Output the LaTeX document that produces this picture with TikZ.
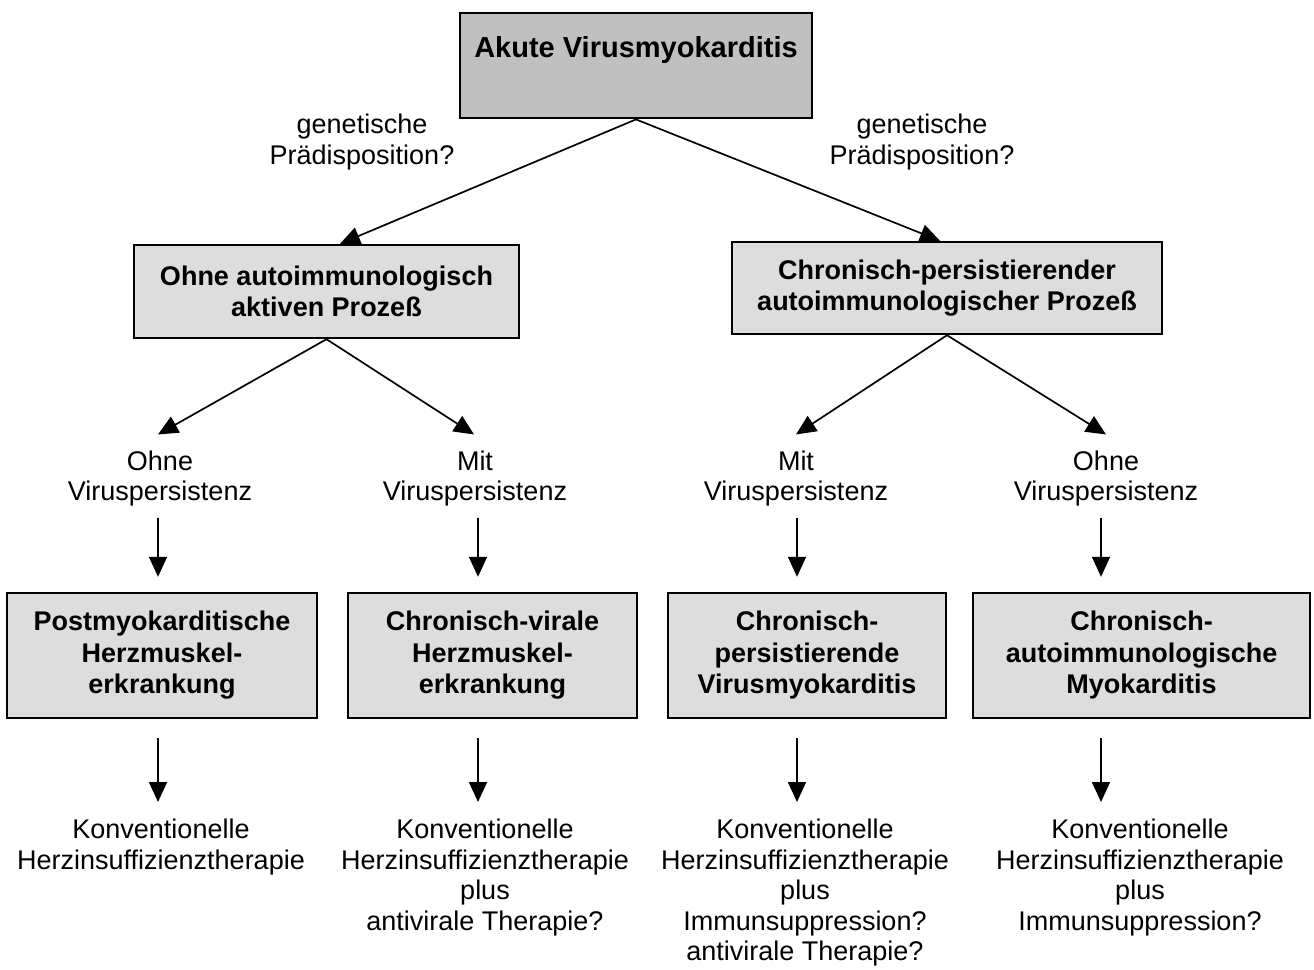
\documentclass[tikz,border=0pt]{standalone}
\usepackage{fontspec}
\setmainfont{Liberation Sans}
\usetikzlibrary{arrows.meta,calc}
\definecolor{dgray}{HTML}{C0C0C0}
\definecolor{lgray}{HTML}{DDDDDD}
\begin{document}
\begin{tikzpicture}[x=1pt,y=-1pt,
  box/.style={draw, line width=2.4pt, inner sep=0pt, align=center, fill=lgray,
    font=\fontsize{27}{31.5}\selectfont\bfseries},
  txt/.style={inner sep=0pt, align=center, font=\fontsize{27}{30.5}\selectfont},
  arr/.style={-{Triangle[length=20pt,width=18pt]}, line width=1.7pt}]
\useasboundingbox (0,0) rectangle (1314,969);
% boxes
\node[box, fill=dgray, anchor=north, minimum width=352pt, text height=44pt, text depth=61pt,
  font=\fontsize{29}{33}\selectfont\bfseries] (akute) at (636,12) {Akute Virusmyokarditis};
\node[box, minimum width=385pt, minimum height=93pt] (ohne) at (326.5,291.5)
  {Ohne autoimmunologisch\\aktiven Prozeß};
\node[box, minimum width=430pt, minimum height=92pt] (chron) at (947,288)
  {Chronisch-persistierender\\autoimmunologischer Prozeß};
\node[box, minimum width=310pt, minimum height=125pt] (b1) at (162,655.5)
  {Postmyokarditische\\Herzmuskel-\\erkrankung};
\node[box, minimum width=289pt, minimum height=125pt] (b2) at (492.5,655.5)
  {Chronisch-virale\\Herzmuskel-\\erkrankung};
\node[box, minimum width=278pt, minimum height=125pt] (b3) at (807,655.5)
  {Chronisch-\\persistierende\\Virusmyokarditis};
\node[box, minimum width=337pt, minimum height=125pt] (b4) at (1141.5,655.5)
  {Chronisch-\\autoimmunologische\\Myokarditis};
% labels
\node[txt] (g1) at (362,142) {genetische\\Prädisposition?};
\node[txt] (g2) at (922,142) {genetische\\Prädisposition?};
\node[txt] (v1) at (160,478.5) {Ohne\\Viruspersistenz};
\node[txt] (v2) at (475,478.5) {Mit\\Viruspersistenz};
\node[txt] (v3) at (796,478.5) {Mit\\Viruspersistenz};
\node[txt] (v4) at (1106,478.5) {Ohne\\Viruspersistenz};
\node[txt, anchor=north] (t1) at (161,819) {Konventionelle\\Herzinsuffizienztherapie};
\node[txt, anchor=north] (t2) at (485,819) {Konventionelle\\Herzinsuffizienztherapie\\plus\\antivirale Therapie?};
\node[txt, anchor=north] (t3) at (805,819) {Konventionelle\\Herzinsuffizienztherapie\\plus\\Immunsuppression?\\antivirale Therapie?};
\node[txt, anchor=north] (t4) at (1140,819) {Konventionelle\\Herzinsuffizienztherapie\\plus\\Immunsuppression?};
% connectors
\draw[arr] (akute.south) -- ($(ohne.north)+(13.5,0)$);
\draw[arr] (akute.south) -- ($(chron.north)+(-7,0)$);
\draw[arr] (ohne.south) -- ($(v1.north)+(-2,-16)$);
\draw[arr] (ohne.south) -- ($(v2.north)+(-1,-16)$);
\draw[arr] (chron.south) -- ($(v3.north)+(0,-16)$);
\draw[arr] (chron.south) -- ($(v4.north)+(0,-16)$);
\draw[arr] ($(v1.south)+(-2,11)$) -- ($(b1.north -| v1.south)+(-2,-15)$);
\draw[arr] ($(v2.south)+(3,11)$) -- ($(b2.north -| v2.south)+(3,-15)$);
\draw[arr] ($(v3.south)+(1,11)$) -- ($(b3.north -| v3.south)+(1,-15)$);
\draw[arr] ($(v4.south)+(-5,11)$) -- ($(b4.north -| v4.south)+(-5,-15)$);
\draw[arr] ($(b1.south -| v1.south)+(-2,19)$) -- ($(t1.north -| v1.south)+(-2,-17)$);
\draw[arr] ($(b2.south -| v2.south)+(3,19)$) -- ($(t2.north -| v2.south)+(3,-17)$);
\draw[arr] ($(b3.south -| v3.south)+(1,19)$) -- ($(t3.north -| v3.south)+(1,-17)$);
\draw[arr] ($(b4.south -| v4.south)+(-5,19)$) -- ($(t4.north -| v4.south)+(-5,-17)$);
\end{tikzpicture}
\end{document}
